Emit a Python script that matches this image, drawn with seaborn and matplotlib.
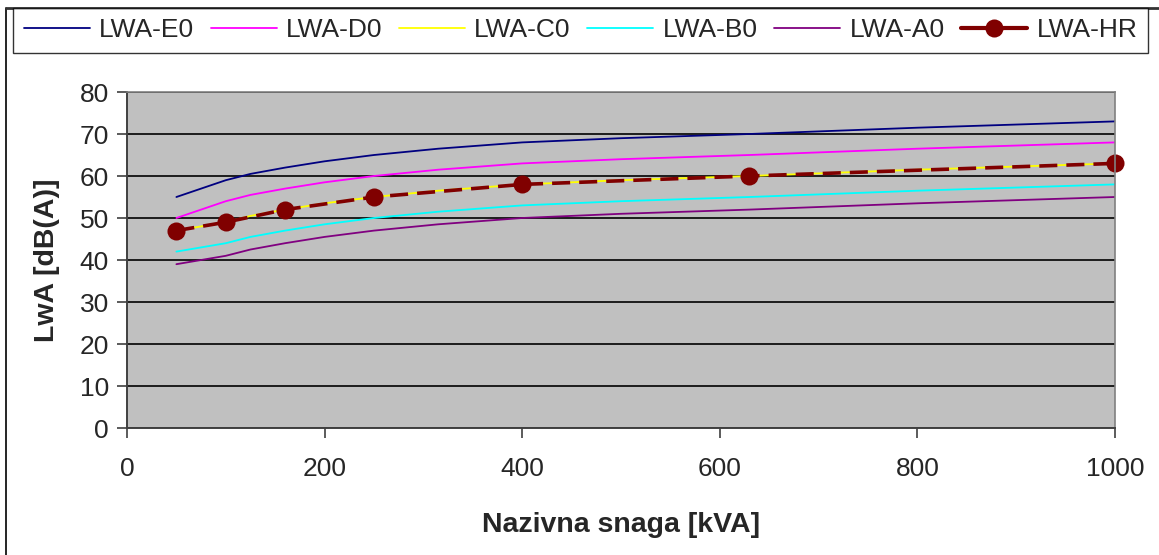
import matplotlib
matplotlib.use("Agg")
import matplotlib.pyplot as plt
from matplotlib.lines import Line2D
import pandas as pd
import seaborn as sns

# rated power [kVA] and sound power levels [dB(A)]
snaga = [50, 100, 125, 160, 200, 250, 315, 400, 500, 630, 800, 1000]
lwa_e0 = [55, 59, 60.5, 62, 63.5, 65, 66.5, 68, 69, 70, 71.5, 73]
lwa_d0 = [50, 54, 55.5, 57, 58.5, 60, 61.5, 63, 64, 65, 66.5, 68]
lwa_c0 = [47, 49, 50.5, 52, 53.5, 55, 56.5, 58, 59, 60, 61.5, 63]
lwa_b0 = [42, 44, 45.5, 47, 48.5, 50, 51.5, 53, 54, 55, 56.5, 58]
lwa_a0 = [39, 41, 42.5, 44, 45.5, 47, 48.5, 50, 51, 52, 53.5, 55]

snaga_hr = [50, 100, 160, 250, 400, 630, 1000]
lwa_hr = [47, 49, 52, 55, 58, 60, 63]

serije = [
    ("LWA-E0", lwa_e0, "#000080"),
    ("LWA-D0", lwa_d0, "#FF00FF"),
    ("LWA-C0", lwa_c0, "#FFFF00"),
    ("LWA-B0", lwa_b0, "#00FFFF"),
    ("LWA-A0", lwa_a0, "#800080"),
]

sns.set_style("white")
plt.rcParams["font.family"] = ["Liberation Sans", "DejaVu Sans"]

fig = plt.figure(figsize=(11.59, 5.55), dpi=100)
ax = fig.add_axes([127 / 1159, 1 - 428 / 555, 988 / 1159, 336 / 555])
ax.set_facecolor("#C0C0C0")

for naziv, vrijednosti, boja in serije:
    df = pd.DataFrame({"snaga": snaga, "lwa": vrijednosti})
    sns.lineplot(data=df, x="snaga", y="lwa", ax=ax, color=boja,
                 linewidth=1.3, label=naziv, legend=False)

df_hr = pd.DataFrame({"snaga": snaga_hr, "lwa": lwa_hr})
sns.lineplot(data=df_hr, x="snaga", y="lwa", ax=ax, color="#800000",
             linewidth=2.6, marker="o", markersize=13, markeredgewidth=0,
             label="LWA-HR", legend=False)
ax.lines[-1].set_dashes([5, 2.5])
ax.lines[-1].set_clip_on(False)

ax.set_xlim(0, 1000)
ax.set_ylim(0, 80)
ax.set_xticks(range(0, 1001, 200))
ax.set_yticks(range(0, 81, 10))
ax.grid(axis="y", color="black", linewidth=1.2)
ax.grid(axis="x", visible=False)
ax.set_axisbelow(True)

for side in ["top", "right"]:
    ax.spines[side].set_color("#808080")
    ax.spines[side].set_linewidth(1.2)
for side in ["left", "bottom"]:
    ax.spines[side].set_color("#404040")
    ax.spines[side].set_linewidth(1.4)

ax.tick_params(axis="both", direction="out", length=7, width=1.2,
               color="#404040", labelsize=19, pad=6,
               left=True, bottom=True)
ax.tick_params(axis="x", pad=14)

ax.set_xlabel("Nazivna snaga [kVA]", fontsize=20.5, fontweight="bold", labelpad=22)
ax.set_ylabel("LwA [dB(A)]", fontsize=20.5, fontweight="bold", labelpad=14)

# legend in a single row across the top
handles = [Line2D([], [], color=b, linewidth=1.3) for _, _, b in serije]
handles.append(Line2D([], [], color="#800000", linewidth=3, marker="o",
                      markersize=13, markeredgewidth=0))
labels = [n for n, _, _ in serije] + ["LWA-HR"]
leg = fig.legend(handles, labels, ncol=6, mode="expand", loc="lower left",
                 bbox_to_anchor=(13 / 1159, 1 - 53 / 555, 1135 / 1159, 41 / 555),
                 borderaxespad=0, fontsize=19, frameon=True, fancybox=False,
                 handlelength=2.5, handletextpad=0.35, borderpad=0.4,
                 columnspacing=0.6)
leg.get_frame().set_edgecolor("black")
leg.get_frame().set_linewidth(1.0)

# chart area border (left and top)
fig.add_artist(Line2D([5.5 / 1159, 5.5 / 1159], [0, 1 - 8 / 555],
                      transform=fig.transFigure, color="black", linewidth=1.2))
fig.add_artist(Line2D([5.5 / 1159, 1], [1 - 8 / 555, 1 - 8 / 555],
                      transform=fig.transFigure, color="#333333", linewidth=2))

fig.savefig("out.png", dpi=100)
